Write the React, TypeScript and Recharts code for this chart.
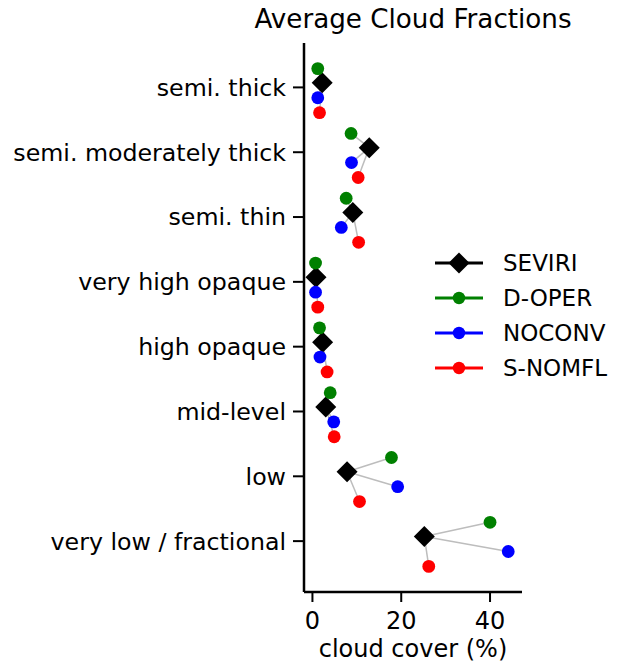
import {
  ScatterChart,
  Scatter,
  XAxis,
  YAxis,
  ReferenceLine,
} from "recharts";

const categories = [
  "semi. thick",
  "semi. moderately thick",
  "semi. thin",
  "very high opaque",
  "high opaque",
  "mid-level",
  "low",
  "very low / fractional",
];

const seviri = [2.2, 12.8, 9.1, 0.8, 2.3, 3.0, 7.8, 25.2];
const dOper = [1.2, 8.7, 7.6, 0.7, 1.6, 4.0, 17.8, 40.0];
const noconv = [1.2, 8.8, 6.5, 0.7, 1.7, 4.8, 19.2, 44.1];
const sNomfl = [1.6, 10.3, 10.4, 1.2, 3.3, 4.9, 10.6, 26.2];

const xTicks = [0, 20, 40];
const yTicks = categories.map((_, i) => i);

// vertical dodge of each series inside a category row
const offsets = { seviri: -0.07, dOper: -0.29, noconv: 0.16, sNomfl: 0.39 };

const FONT = "'DejaVu Sans', sans-serif";

const toPoints = (vals: number[], off: number) =>
  vals.map((v, i) => ({ x: v, y: i + off, cat: categories[i] }));

const Diamond = (props: any) => {
  const { cx, cy } = props;
  const r = 10.5;
  return (
    <polygon
      points={`${cx},${cy - r} ${cx + r},${cy} ${cx},${cy + r} ${cx - r},${cy}`}
      fill="#000"
    />
  );
};

const makeDot = (color: string) => (props: any) =>
  <circle cx={props.cx} cy={props.cy} r={6.4} fill={color} />;

const legendItems = [
  { name: "SEVIRI", color: "#000", diamond: true },
  { name: "D-OPER", color: "#008000", diamond: false },
  { name: "NOCONV", color: "#0000ff", diamond: false },
  { name: "S-NOMFL", color: "#ff0000", diamond: false },
];

const LegendBox = () => (
  <svg width={190} height={140}>
    {legendItems.map((it, i) => {
      const y = 18 + i * 35;
      return (
        <g key={it.name}>
          <line x1={5} x2={53} y1={y} y2={y} stroke={it.color} strokeWidth={3} />
          {it.diamond ? (
            <polygon
              points={`29,${y - 10.5} 39.5,${y} 29,${y + 10.5} 18.5,${y}`}
              fill="#000"
            />
          ) : (
            <circle cx={29} cy={y} r={6.2} fill={it.color} />
          )}
          <text x={73} y={y + 8} fontSize={23} fontFamily={FONT} fill="#000">
            {it.name}
          </text>
        </g>
      );
    })}
  </svg>
);

const models = [
  { vals: dOper, off: offsets.dOper },
  { vals: noconv, off: offsets.noconv },
  { vals: sNomfl, off: offsets.sNomfl },
];

export default function App() {
  return (
    <div style={{ position: "absolute", left: 0, top: 0, width: 621, height: 663, background: "#fff" }}>
      <ScatterChart
        width={621}
        height={663}
        margin={{ top: 43, right: 99, bottom: 0, left: 0 }}
      >
        <XAxis
          type="number"
          dataKey="x"
          domain={[-1.9, 47.2]}
          allowDataOverflow
          ticks={xTicks}
          height={71}
          tickSize={10}
          tickMargin={10}
          axisLine={{ stroke: "#000", strokeWidth: 2.5 }}
          tickLine={{ stroke: "#000", strokeWidth: 2 }}
          tick={{ fill: "#000", fontSize: 24, fontFamily: FONT }}
          label={{
            value: "cloud cover (%)",
            position: "insideBottom",
            offset: 6,
            fill: "#000",
            fontSize: 24,
            fontFamily: FONT,
          }}
        />
        <YAxis
          type="number"
          dataKey="y"
          reversed
          domain={[-0.685, 7.785]}
          allowDataOverflow
          ticks={yTicks}
          interval={0}
          width={304}
          tickSize={11}
          tickMargin={7}
          tickFormatter={(v: number) => categories[v] ?? ""}
          axisLine={{ stroke: "#000", strokeWidth: 2.5 }}
          tickLine={{ stroke: "#000", strokeWidth: 2 }}
          tick={{ fill: "#000", fontSize: 23.7, fontFamily: FONT }}
        />
        {categories.map((_, i) =>
          models.map((m, j) => (
            <ReferenceLine
              key={`c-${i}-${j}`}
              segment={[
                { x: seviri[i], y: i + offsets.seviri },
                { x: m.vals[i], y: i + m.off },
              ]}
              stroke="#bdbdbd"
              strokeWidth={1.5}
            />
          ))
        )}
        <Scatter
          name="SEVIRI"
          data={toPoints(seviri, offsets.seviri)}
          shape={Diamond}
          isAnimationActive={false}
        />
        <Scatter
          name="D-OPER"
          data={toPoints(dOper, offsets.dOper)}
          shape={makeDot("#008000")}
          isAnimationActive={false}
        />
        <Scatter
          name="NOCONV"
          data={toPoints(noconv, offsets.noconv)}
          shape={makeDot("#0000ff")}
          isAnimationActive={false}
        />
        <Scatter
          name="S-NOMFL"
          data={toPoints(sNomfl, offsets.sNomfl)}
          shape={makeDot("#ff0000")}
          isAnimationActive={false}
        />
      </ScatterChart>
      <div
        style={{
          position: "absolute",
          left: 304,
          width: 218,
          top: 4,
          fontFamily: FONT,
          fontSize: 26.2,
          color: "#000",
          whiteSpace: "nowrap",
          display: "flex",
          justifyContent: "center",
        }}
      >
        Average Cloud Fractions
      </div>
      <div style={{ position: "absolute", left: 430, top: 245 }}>
        <LegendBox />
      </div>
    </div>
  );
}
